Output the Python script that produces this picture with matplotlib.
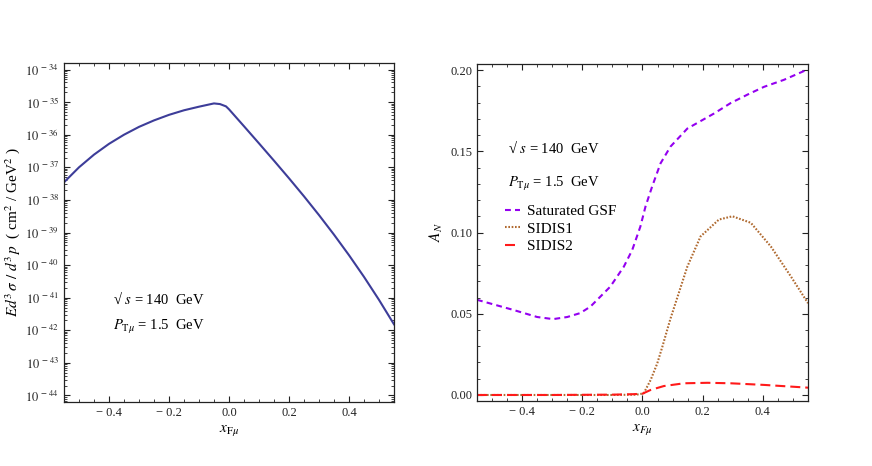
"""
Muon cross section and single spin asymmetry A_N vs x_F (two panels).
"""

import math
import matplotlib
matplotlib.use('Agg')
import matplotlib.pyplot as plt
from matplotlib.ticker import MultipleLocator, LogLocator, FixedLocator, FuncFormatter, NullFormatter

plt.rcParams['font.family'] = ['Liberation Serif', 'DejaVu Serif']
plt.rcParams['mathtext.fontset'] = 'stix'
plt.rcParams['axes.unicode_minus'] = True

# left panel: E d^3sigma/d^3p (cm^2/GeV^2)
xf_sigma = [-0.55, -0.50, -0.45, -0.40, -0.35, -0.30, -0.25, -0.20, -0.15, -0.10,
            -0.07, -0.05, -0.03, -0.01, 0.0, 0.05, 0.10, 0.15, 0.20, 0.25,
            0.30, 0.35, 0.40, 0.45, 0.50, 0.55]
sigma = [3.47e-38, 1.0e-37, 2.45e-37, 5.25e-37, 1.0e-36, 1.74e-36, 2.75e-36, 4.07e-36,
         5.62e-36, 7.24e-36, 8.32e-36, 9.12e-36, 8.71e-36, 7.41e-36, 6.03e-36, 1.82e-36,
         5.43e-37, 1.60e-37, 4.62e-38, 1.29e-38, 3.43e-39, 8.61e-40, 2.02e-40, 4.37e-41,
         8.61e-42, 1.53e-42]

# right panel: A_N
xf_gsf = [-0.55, -0.43, -0.35, -0.297, -0.25, -0.207, -0.173, -0.107, -0.062, -0.034,
          -0.007, 0.01, 0.032, 0.06, 0.093, 0.149, 0.238, 0.293, 0.35, 0.404, 0.47, 0.55]
an_gsf = [0.0586, 0.0524, 0.048, 0.0467, 0.048, 0.0504, 0.0544, 0.0667, 0.079, 0.0893,
          0.1037, 0.116, 0.1283, 0.1426, 0.1529, 0.164, 0.1733, 0.1797, 0.185, 0.1897, 0.194, 0.2005]

xf_sidis1 = [-0.55, -0.3, -0.1, -0.02, 0.004, 0.027, 0.049, 0.066, 0.082, 0.093, 0.149,
             0.193, 0.254, 0.299, 0.36, 0.427, 0.493, 0.55]
an_sidis1 = [0.0, 0.0, 0.0, 0.0002, 0.001, 0.0092, 0.0194, 0.0297, 0.04, 0.047, 0.079,
             0.0976, 0.108, 0.110, 0.106, 0.0913, 0.073, 0.0565]

xf_sidis2 = [-0.55, -0.3, -0.1, -0.03, 0.0, 0.027, 0.071, 0.138, 0.216, 0.293, 0.404, 0.55]
an_sidis2 = [0.0, 0.0, 0.0002, 0.0005, 0.0008, 0.0031, 0.0055, 0.0072, 0.0075, 0.0072, 0.0062, 0.0045]

FRAME = '#222222'
FS_TICK = 9
FS_TEXT = 10.5
FS_LABEL = 11

SQRT_S = '\u221a $s$ = 140  GeV'
PT_MU = r'$P_{\mathrm{T}\mu}$ = 1.5  GeV'


def fmt_x(v, pos):
    if abs(v) < 1e-9:
        return '0.0'
    return f'{v:.1f}'.replace('-', '\u2212 ')


def style_axes(ax):
    for sp in ax.spines.values():
        sp.set_color(FRAME)
        sp.set_linewidth(0.9)
    ax.tick_params(which='both', direction='in', top=True, right=True, colors=FRAME,
                   labelsize=FS_TICK, pad=3.5)
    ax.tick_params(which='major', length=4, width=0.8)
    ax.tick_params(which='minor', length=2, width=0.6)
    ax.xaxis.set_major_locator(MultipleLocator(0.2))
    ax.xaxis.set_minor_locator(MultipleLocator(0.05))
    ax.xaxis.set_major_formatter(FuncFormatter(fmt_x))
    ax.set_xlim(-0.55, 0.55)


fig = plt.figure(figsize=(8.72, 4.66), dpi=100)

# ---- left panel
ax1 = fig.add_axes([0.0734, 0.1373, 0.3784, 0.7275])
style_axes(ax1)
ax1.plot(xf_sigma, sigma, color='#3d3d99', linewidth=1.5)
ax1.set_yscale('log')
ax1.set_ylim(10 ** -44.2, 10 ** -33.8)
ax1.yaxis.set_major_locator(FixedLocator([10.0 ** k for k in range(-44, -33)]))
ax1.yaxis.set_major_formatter(FuncFormatter(lambda v, p: r'$10^{\,-\,%d}$' % round(-math.log10(v))))
ax1.yaxis.set_minor_locator(LogLocator(base=10, subs=range(2, 10), numticks=30))
ax1.yaxis.set_minor_formatter(NullFormatter())
ax1.set_xlabel(r'$x_{\mathrm{F}\mu}$', fontsize=FS_LABEL, labelpad=3)
ax1.set_ylabel(r'$Ed^3\,\sigma\ /\ d^3\,p$  ( cm$^2$ / GeV$^2$ )', fontsize=FS_LABEL, labelpad=2)
ax1.text(0.15, 0.305, SQRT_S, transform=ax1.transAxes, fontsize=FS_TEXT, va='center')
ax1.text(0.15, 0.22, PT_MU, transform=ax1.transAxes, fontsize=FS_TEXT, va='center')

# ---- right panel
ax2 = fig.add_axes([0.547, 0.1395, 0.3796, 0.723])
style_axes(ax2)
ax2.plot(xf_gsf, an_gsf, color='#9400f0', linewidth=1.5, dashes=(2.8, 2.0), label='Saturated GSF')
ax2.plot(xf_sidis1, an_sidis1, color='#b06a30', linewidth=1.5, linestyle=(0, (0.8, 0.8)), label='SIDIS1')
ax2.plot(xf_sidis2, an_sidis2, color='#ff1a1a', linewidth=1.5, dashes=(4.8, 2.4), label='SIDIS2')
ax2.set_ylim(-0.0037, 0.2037)
ax2.yaxis.set_major_locator(MultipleLocator(0.05))
ax2.yaxis.set_minor_locator(MultipleLocator(0.01))
ax2.yaxis.set_major_formatter(FuncFormatter(lambda v, p: f'{abs(v):.2f}'))
ax2.set_xlabel(r'$x_{F\mu}$', fontsize=FS_LABEL, labelpad=3)
ax2.set_ylabel(r'$A_N$', fontsize=FS_LABEL, labelpad=4)
ax2.text(0.093, 0.75, SQRT_S, transform=ax2.transAxes, fontsize=FS_TEXT, va='center')
ax2.text(0.093, 0.645, PT_MU, transform=ax2.transAxes, fontsize=FS_TEXT, va='center')
ax2.legend(loc='upper left', bbox_to_anchor=(0.085, 0.583), frameon=False, fontsize=11,
           handlelength=0.95, handletextpad=0.45, labelspacing=0.25, borderaxespad=0, borderpad=0)

plt.savefig('out.png', dpi=100, facecolor='white')
plt.close()
